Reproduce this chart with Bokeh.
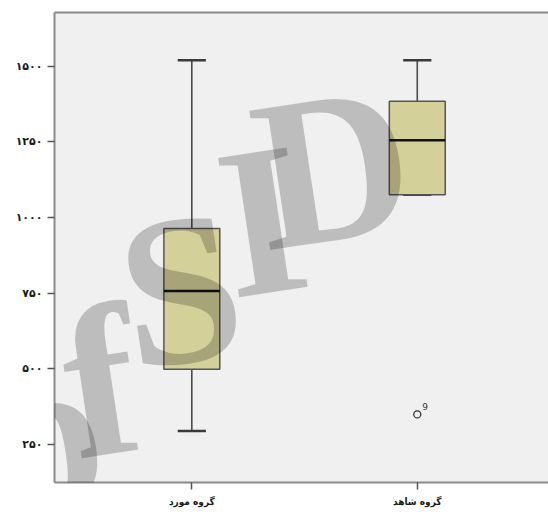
from bokeh.plotting import figure
from bokeh.models import Range1d, FixedTicker, LinearAxis, Label
from bokeh.embed import file_html
from bokeh.resources import INLINE
from bokeh.core.properties import value

# ---- data ----
categories = ["گروه مورد", "گروه شاهد"]
group_pos = [1, 2]
lower_whisker = [294, 1075]
q1 = [498, 1075]
median = [757, 1255]
q3 = [963, 1384]
upper_whisker = [1519, 1519]
outlier_group = [2]
outlier_values = [349]
outlier_labels = ["9"]
ytick_values = [250, 500, 750, 1000, 1250, 1500]
ytick_labels = ["۲۵۰", "۵۰۰", "۷۵۰", "۱۰۰۰", "۱۲۵۰", "۱۵۰۰"]

BOX_W = 0.248
CAP_W = 0.125

X0, X1 = 0.391, 2.582
Y0, Y1 = 124, 1677
W, H = 548, 515
ML, MT, MB = 54, 12, 33

p = figure(width=W, height=H, output_backend="svg", toolbar_location=None,
           x_range=Range1d(X0, X1), y_range=Range1d(Y0, Y1),
           min_border_left=ML, min_border_right=0, min_border_top=MT, min_border_bottom=MB)
p.background_fill_color = "#f0f0f0"
p.border_fill_color = "white"
p.outline_line_color = None
p.grid.visible = False

# whiskers
p.segment(x0=group_pos, y0=q3, x1=group_pos, y1=upper_whisker, line_color="#4a4a4a", line_width=1.6)
p.segment(x0=group_pos, y0=q1, x1=group_pos, y1=lower_whisker, line_color="#4a4a4a", line_width=1.6)
# caps
p.segment(x0=[g - CAP_W / 2 for g in group_pos], y0=upper_whisker,
          x1=[g + CAP_W / 2 for g in group_pos], y1=upper_whisker, line_color="#3a3a3a", line_width=2.5)
p.segment(x0=[g - CAP_W / 2 for g in group_pos], y0=lower_whisker,
          x1=[g + CAP_W / 2 for g in group_pos], y1=lower_whisker, line_color="#3a3a3a", line_width=2.5)
# boxes
p.vbar(x=group_pos, width=BOX_W, bottom=q1, top=q3, fill_color="#d4d09a",
       line_color="#555555", line_width=1.5)
# medians
p.segment(x0=[g - BOX_W / 2 for g in group_pos], y0=median,
          x1=[g + BOX_W / 2 for g in group_pos], y1=median, line_color="#111111", line_width=2.5)
# outliers
p.scatter(x=outlier_group, y=outlier_values, marker="circle", size=7, fill_color=None,
          line_color="#333333", line_width=1.3)
p.text(x=outlier_group, y=outlier_values, text=outlier_labels, x_offset=5, y_offset=-4,
       text_font=value("DejaVu Sans"), text_font_size="9px", text_color="#333333",
       text_baseline="bottom", text_align="left")

# axes
p.yaxis.ticker = FixedTicker(ticks=ytick_values)
p.yaxis.major_label_overrides = dict(zip(ytick_values, ytick_labels))
p.xaxis.ticker = FixedTicker(ticks=group_pos)
p.xaxis.major_label_overrides = dict(zip(group_pos, categories))
for ax in (p.xaxis[0], p.yaxis[0]):
    ax.axis_line_color = "#8a8a8a"
    ax.axis_line_width = 2
    ax.major_tick_line_color = "#555555"
    ax.major_tick_line_width = 1.5
    ax.major_tick_out = 7
    ax.major_tick_in = 0
    ax.minor_tick_line_color = None
    ax.major_label_text_font_style = "bold"
    ax.major_label_text_color = "#1a1a1a"
p.yaxis.major_label_text_font = "DejaVu Sans"
p.yaxis.major_label_text_font_size = "11px"
p.yaxis.major_label_standoff = 5
p.xaxis.major_label_text_font = "DejaVu Sans Condensed"
p.xaxis.major_label_text_font_size = "10px"
p.xaxis.major_label_standoff = 6

top_axis = LinearAxis(ticker=FixedTicker(ticks=[]), axis_line_color="#8a8a8a", axis_line_width=2,
                      major_tick_line_color=None, minor_tick_line_color=None,
                      major_label_text_font_size="0px", major_label_standoff=0)
p.add_layout(top_axis, "above")

# watermark present in the reference picture ("of SID"), letter by letter,
# positioned in pixel space of the frame
frame_w = W - ML
frame_h = H - MT - MB - 2
def px_to_data(px, py):
    return (X0 + (px - ML) / frame_w * (X1 - X0),
            Y1 - (py - MT) / frame_h * (Y1 - Y0))

wm_letters = ["o", "f", "S", "I", "D"]
wm_pixels = [(47, 430), (100, 380), (180, 288), (262, 219), (332, 166)]
for ch, (px, py) in zip(wm_letters, wm_pixels):
    xd, yd = px_to_data(px, py)
    p.add_layout(Label(x=xd, y=yd, text=ch, angle=0.15, text_align="center",
                       text_baseline="middle", text_font="Liberation Serif",
                       text_font_style="bold", text_font_size="215px",
                       text_color="black", text_alpha=0.21))

open("out.html", "w").write(file_html(p, INLINE))
